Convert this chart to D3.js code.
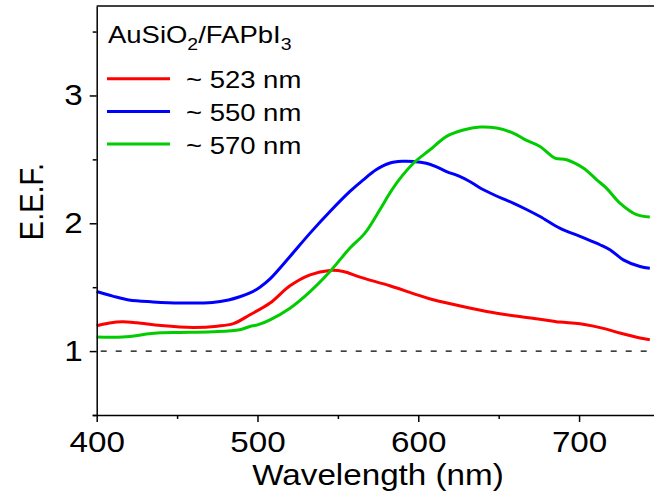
<!DOCTYPE html>
<html>
<head>
<meta charset="utf-8">
<script src="https://cdn.jsdelivr.net/npm/d3@7"></script>
<style>
  html, body { margin: 0; padding: 0; background: #fff; }
  svg { display: block; }
  text { font-family: "Liberation Sans", Arial, sans-serif; fill: #000; }
</style>
</head>
<body>
<svg id="chart" width="654" height="497"></svg>
<script>
// ---- data ----
const xTicks = [400, 500, 600, 700];
const xMinorTicks = [450, 550, 650];
const yTicks = [1, 2, 3];
const yMinorTicks = [0.5, 1.5, 2.5, 3.5];

const legendTitle = ["AuSiO", "2", "/FAPbI", "3"];
const seriesNames = ["~ 523 nm", "~ 550 nm", "~ 570 nm"];
const seriesColors = ["#ff0000", "#0000ff", "#00cc00"];

const wl523 = [400, 408, 416, 425, 440, 460, 475, 485, 495.3, 507.8, 520.2, 532.7, 545, 553.4, 563.8, 582.3, 597, 607, 620, 642.5, 663, 675.7, 688, 700.6, 717, 725.4, 737.9, 744];
const eef523 = [1.198, 1.22, 1.23, 1.222, 1.2, 1.185, 1.195, 1.215, 1.284, 1.376, 1.511, 1.597, 1.631, 1.623, 1.579, 1.511, 1.45, 1.41, 1.37, 1.31, 1.27, 1.25, 1.227, 1.214, 1.172, 1.141, 1.102, 1.088];

const wl550 = [400, 410, 420, 435, 452, 472, 482, 489, 495.3, 501.5, 507.8, 520.2, 532.7, 545.1, 557.5, 565.8, 574, 582, 590, 597, 605, 611, 617.6, 625, 632, 638, 645, 652.8, 659, 667, 675.7, 688, 700.6, 713, 719.2, 727.5, 737.9, 744];
const eef550 = [1.466, 1.43, 1.40, 1.385, 1.376, 1.38, 1.40, 1.425, 1.455, 1.50, 1.565, 1.74, 1.923, 2.092, 2.249, 2.34, 2.42, 2.47, 2.485, 2.484, 2.47, 2.444, 2.405, 2.37, 2.327, 2.28, 2.235, 2.19, 2.158, 2.11, 2.053, 1.962, 1.897, 1.832, 1.793, 1.714, 1.662, 1.649];

const wl570 = [400, 410, 420.7, 431, 440, 451.8, 472, 489, 495.3, 500, 507.8, 520.2, 532.7, 545.1, 557.5, 566.8, 576.1, 582.3, 588, 597, 607.3, 617.6, 628, 638.3, 648.7, 659, 667, 675.7, 685, 692.3, 702.6, 711, 717, 725.4, 735.8, 744];
const eef570 = [1.11, 1.108, 1.114, 1.133, 1.143, 1.146, 1.151, 1.167, 1.193, 1.205, 1.245, 1.336, 1.466, 1.623, 1.806, 1.923, 2.106, 2.236, 2.34, 2.47, 2.575, 2.68, 2.73, 2.753, 2.745, 2.706, 2.65, 2.601, 2.51, 2.497, 2.432, 2.34, 2.275, 2.158, 2.067, 2.049];

const referenceLevel = 1;

// ---- layout ----
const SX = 1.145; // horizontal text stretch of the original figure
const plotL = 96.7, plotR = 654, plotT = 6, plotB = 415;

const svg = d3.select("#chart");
const x = d3.scaleLinear().domain([400, 746.6]).range([plotL, plotR]);
const y = d3.scaleLinear().domain([0.5, 3.7]).range([plotB, plotT]);

// reference dashed line at E.E.F. = 1
svg.append("line")
  .attr("x1", x(400) + 4).attr("x2", plotR)
  .attr("y1", y(referenceLevel)).attr("y2", y(referenceLevel))
  .attr("stroke", "#000").attr("stroke-width", 1.2)
  .attr("stroke-dasharray", "6,9");

// curves
const seriesData = [
  wl523.map((w, i) => [w, eef523[i]]),
  wl550.map((w, i) => [w, eef550[i]]),
  wl570.map((w, i) => [w, eef570[i]])
];
const line = d3.line().x(d => x(d[0])).y(d => y(d[1])).curve(d3.curveCatmullRom.alpha(0.5));
seriesData.forEach((s, i) => {
  svg.append("path").datum(s)
    .attr("d", line)
    .attr("fill", "none")
    .attr("stroke", seriesColors[i])
    .attr("stroke-width", 3)
    .attr("stroke-linejoin", "round");
});

// axes
const fs = 29;
const xAxisG = svg.append("g").attr("transform", `translate(0,${plotB})`)
  .call(d3.axisBottom(x).tickValues(xTicks).tickSize(7).tickSizeOuter(0).tickPadding(9.4));
const xMinorG = svg.append("g").attr("transform", `translate(0,${plotB})`)
  .call(d3.axisBottom(x).tickValues(xMinorTicks).tickSize(4).tickFormat(""));
xMinorG.select(".domain").remove();

const yAxisG = svg.append("g").attr("transform", `translate(${plotL},0)`)
  .call(d3.axisLeft(y).tickValues(yTicks).tickFormat(d3.format("d")).tickSize(7).tickSizeOuter(0));
const yMinorG = svg.append("g").attr("transform", `translate(${plotL},0)`)
  .call(d3.axisLeft(y).tickValues(yMinorTicks).tickSize(4).tickFormat(""));
yMinorG.select(".domain").remove();

[xAxisG, yAxisG, xMinorG, yMinorG].forEach(g => {
  g.selectAll("path, line").attr("stroke", "#000").attr("stroke-width", 1.5);
  g.attr("font-family", null);
});
xAxisG.select(".domain").attr("d", `M${plotL - 4},0.5H${plotR}`);

xAxisG.selectAll("text")
  .attr("font-size", fs)
  .attr("transform", `scale(${SX},1)`);
yAxisG.selectAll("text")
  .attr("font-size", fs)
  .attr("x", 0)
  .attr("transform", `translate(-14,0) scale(${SX},1)`);

// top spine
svg.append("line")
  .attr("x1", plotL).attr("x2", plotR).attr("y1", plotT).attr("y2", plotT)
  .attr("stroke", "#000").attr("stroke-width", 1.5);

// axis titles
svg.append("text")
  .attr("transform", `translate(378,485) scale(${SX},1)`)
  .attr("text-anchor", "middle").attr("font-size", fs)
  .text("Wavelength (nm)");
svg.append("text")
  .attr("transform", `translate(43,201.5) scale(${SX},1) rotate(-90)`)
  .attr("text-anchor", "middle").attr("font-size", fs)
  .text("E.E.F.");

// legend
const lt = svg.append("text")
  .attr("transform", `translate(108,43.3) scale(${SX},1)`)
  .attr("font-size", 24);
lt.append("tspan").text(legendTitle[0]);
lt.append("tspan").attr("font-size", 17).attr("dy", 7).text(legendTitle[1]);
lt.append("tspan").attr("dy", -7).text(legendTitle[2]);
lt.append("tspan").attr("font-size", 17).attr("dy", 7).text(legendTitle[3]);

seriesNames.forEach((name, i) => {
  const ly = 78.7 + i * 32.7;
  svg.append("line")
    .attr("x1", 107).attr("x2", 170).attr("y1", ly).attr("y2", ly)
    .attr("stroke", seriesColors[i]).attr("stroke-width", 3);
  svg.append("text")
    .attr("transform", `translate(186,${ly + 9.5}) scale(${SX},1)`)
    .attr("font-size", 24)
    .text(name);
});
</script>
</body>
</html>
